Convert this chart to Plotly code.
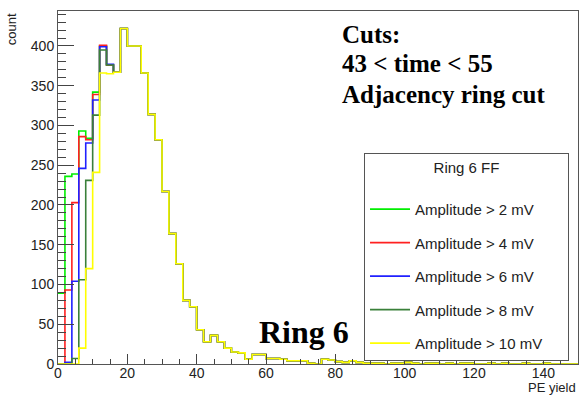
import plotly.graph_objects as go

# PE yield histogram, bin width 2, range 0-150
bin_edges = list(range(0, 152, 2))

# first 8 bins (0-16) differ per amplitude cut
head_gt2 = [89, 236, 239, 293, 284, 342, 400, 376]
head_gt4 = [0, 93, 203, 286, 282, 339, 401, 376]
head_gt6 = [0, 2, 104, 246, 278, 332, 399, 377]
head_gt8 = [0, 0, 7, 106, 231, 313, 395, 376]
head_gt10 = [0, 0, 0, 20, 120, 241, 366, 365]

# bins 16-150 (shared)
tail = [367, 422, 400, 400, 366, 314, 282, 217, 164, 126,
        80, 72, 43, 28, 36, 28, 20, 15, 14, 6,
        12, 12, 7, 7, 6, 4, 4, 4, 1, 0,
        6, 5, 3, 2, 4, 2, 1, 1, 1, 0,
        1, 1, 2, 1, 0, 1, 1, 0, 1, 0,
        1, 1, 0, 0, 1, 0, 1, 0, 0, 1,
        0, 0, 1, 0, 0, 0, 0]

series_names = ["Amplitude > 2 mV", "Amplitude > 4 mV", "Amplitude > 6 mV",
                "Amplitude > 8 mV", "Amplitude > 10 mV"]
series_heads = [head_gt2, head_gt4, head_gt6, head_gt8, head_gt10]
series_colors = ["#00ee00", "#ff2020", "#2020ff", "#3a803a", "#ffff00"]

pad = "\u00a0" * 5  # widen legend box like the reference

fig = go.Figure()
for name, head, color in zip(series_names, series_heads, series_colors):
    vals = head + tail
    xs = bin_edges[:-1] + [bin_edges[-1]]
    ys = vals + [vals[-1]]
    fig.add_trace(go.Scatter(
        x=xs, y=ys, mode="lines", name=name + pad, legendgroup=name,
        line=dict(color=color, width=1.6, shape="hv"),
    ))

sans = "Liberation Sans, Arial, sans-serif"
axis_font = dict(family=sans, size=14, color="#222")

fig.update_layout(
    width=580, height=397,
    margin=dict(l=58, r=2, t=11, b=33),
    plot_bgcolor="white", paper_bgcolor="white",
    showlegend=True,
    legend=dict(
        x=0.5885, y=0.598, xanchor="left", yanchor="top",
        bgcolor="white", bordercolor="#555", borderwidth=1,
        font=dict(family=sans, size=15, color="#222"),
        title=dict(text="Ring 6 FF<br> ", side="top center",
                   font=dict(family=sans, size=15, color="#222")),
        tracegroupgap=11, traceorder="grouped", itemwidth=40,
    ),
    xaxis=dict(
        range=[0, 150], tickmode="array", tickvals=[0, 20, 40, 60, 80, 100, 120, 140],
        ticks="inside", ticklen=10, tickcolor="#444", showline=True, linecolor="#555",
        linewidth=1, mirror=True, showgrid=False, zeroline=False, tickfont=axis_font,
        ticklabelstandoff=-4,
        minor=dict(dtick=5, ticks="inside", ticklen=5, tickcolor="#444", showgrid=False),
    ),
    yaxis=dict(
        range=[0, 444], tickmode="array", tickvals=[0, 50, 100, 150, 200, 250, 300, 350, 400],
        ticks="inside", ticklen=16, tickcolor="#444", showline=True, linecolor="#555",
        linewidth=1, mirror=True, showgrid=False, zeroline=False, tickfont=axis_font,
        minor=dict(dtick=10, ticks="inside", ticklen=8, tickcolor="#444", showgrid=False),
    ),
)

label_font = dict(family=sans, size=13, color="#222")
serif_bold = "Liberation Serif, Times New Roman, serif"
big = dict(family=serif_bold, size=25, color="black")
annotations = [
    dict(text="count", xref="paper", yref="paper", x=-0.09, y=1.0, xanchor="center",
         yanchor="top", textangle=-90, showarrow=False, font=label_font),
    dict(text="PE yield", xref="paper", yref="paper", x=1.0, y=-0.0935, xanchor="right",
         yanchor="bottom", showarrow=False, font=label_font),
    dict(text="<b>Cuts:</b>", xref="paper", yref="paper", x=0.543, y=0.934, xanchor="left",
         yanchor="middle", showarrow=False, font=big),
    dict(text="<b>43 < time < 55</b>", xref="paper", yref="paper", x=0.543, y=0.851,
         xanchor="left", yanchor="middle", showarrow=False, font=big),
    dict(text="<b>Adjacency ring cut</b>", xref="paper", yref="paper", x=0.543, y=0.763,
         xanchor="left", yanchor="middle", showarrow=False, font=big),
    dict(text="<b>Ring 6</b>", xref="paper", yref="paper", x=0.382, y=0.091, xanchor="left",
         yanchor="middle", showarrow=False, font=dict(family=serif_bold, size=32, color="black")),
]
fig.update_layout(annotations=annotations)

fig.write_html("out.html")
